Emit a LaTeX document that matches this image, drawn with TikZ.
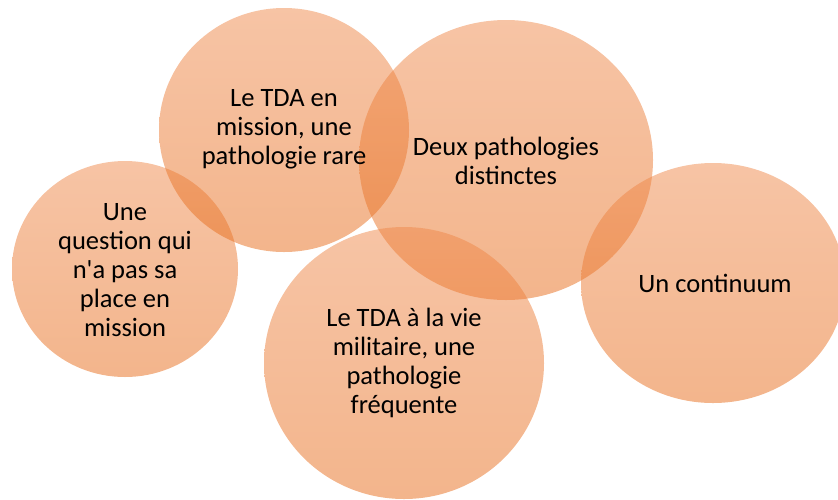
\documentclass[tikz,border=0pt]{standalone}
\usepackage{fontspec}
\setmainfont{Carlito}[Ligatures=TeXOff]
\definecolor{ctop}{RGB}{239,137,75}
\definecolor{cbot}{RGB}{231,107,25}
\tikzset{
  bubble/.style={top color=ctop, bottom color=cbot, fill opacity=0.5, draw=none},
  lbl/.style={align=center, text=black, font=\fontsize{26.5pt}{29pt}\selectfont, inner sep=0pt}
}
\begin{document}
\begin{tikzpicture}[x=1pt,y=-1pt]
\useasboundingbox (0,0) rectangle (838,499);
\clip (0,0) rectangle (838,499);
\coordinate (c1) at (125,269);
\coordinate (c2) at (284,130);
\coordinate (c3) at (506,160);
\coordinate (c4) at (713,283);
\coordinate (c5) at (404,363);
\shade[bubble] (c1) ellipse [x radius=113pt, y radius=108pt];
\shade[bubble] (c2) ellipse [x radius=125pt, y radius=122pt];
\shade[bubble] (c3) ellipse [x radius=147pt, y radius=140pt];
\shade[bubble] (c4) ellipse [x radius=132pt, y radius=120pt];
\shade[bubble] (c5) ellipse [x radius=140pt, y radius=136pt];
\node[lbl] (t1) at (125,270) {Une\\question qui\\n'a pas sa\\place en\\mission};
\node[lbl] (t2) at (284,129) {Le TDA en\\mission, une\\pathologie rare};
\node[lbl] (t3) at (506,161) {Deux pathologies\\distinctes};
\node[lbl] (t4) at (715,283) {Un continuum};
\node[lbl] (t5) at (404,363) {Le TDA à la vie\\militaire, une\\pathologie\\fréquente};
\end{tikzpicture}
\end{document}
